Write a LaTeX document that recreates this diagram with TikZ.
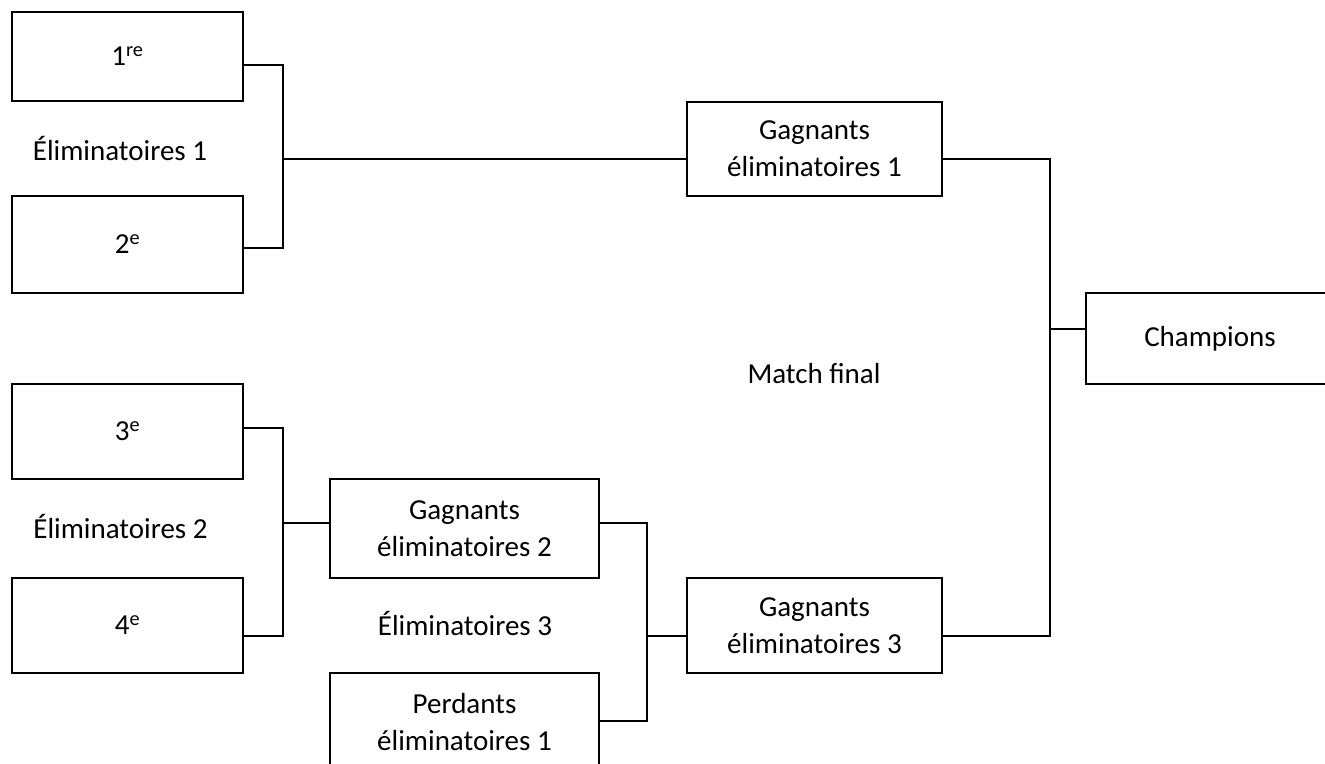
\documentclass[tikz,border=0pt]{standalone}
\usepackage{fontspec}
\setmainfont{Carlito}
\usetikzlibrary{shapes,arrows}

\begin{document}
\begin{tikzpicture}[x=1pt, y=-1pt, font=\fontsize{29}{37}\selectfont]
    \tikzstyle{block} = [rectangle, draw, line width=2.5pt, align=center, inner sep=0pt, minimum width=231pt, minimum height=95pt]
    \tikzstyle{line} = [draw, line width=2.5pt]
    \tikzstyle{stage} = [anchor=base, inner sep=0pt]

    \path [use as bounding box, clip] (0,0) rectangle (1325,763);

    \node [block, minimum height=89pt] (first) at (127.5,56.5) {1\textsuperscript{re}};
    \node [block, minimum height=97pt] (second) at (127.5,244.5) {2\textsuperscript{e}};
    \node [block] (third) at (127.5,431.5) {3\textsuperscript{e}};
    \node [block] (fourth) at (127.5,625.5) {4\textsuperscript{e}};
    \node [block, minimum width=255pt, minimum height=94pt] (win1) at (814.5,149) {Gagnants\\éliminatoires 1};
    \node [block, minimum width=269pt, minimum height=99pt] (win2) at (464.5,528.5) {Gagnants\\éliminatoires 2};
    \node [block, minimum width=269pt, minimum height=99pt] (lose1) at (464.5,722.5) {Perdants\\éliminatoires 1};
    \node [block, minimum width=255pt] (win3) at (814.5,625.5) {Gagnants\\éliminatoires 3};
    \node [block, minimum width=248pt, minimum height=91pt] (champ) at (1210,338.5) {Champions};

    \node [stage] (elim1) at (120,160) {Éliminatoires 1};
    \node [stage] (elim2) at (120.5,538) {Éliminatoires 2};
    \node [stage] (elim3) at (465,635) {Éliminatoires 3};
    \node [stage] (final) at (814,383) {Match final};

    % bracket joints
    \coordinate (j1) at (283,159);
    \coordinate (j2) at (283,523);
    \coordinate (j3) at (647,636);
    \coordinate (j4) at (1050,329);

    \path [line] ([yshift=-8.5pt]first.east) -| (j1) |- ([yshift=-3.5pt]second.east);
    \path [line] (j1) -- ([yshift=-10pt]win1.west);
    \path [line] ([yshift=3.5pt]third.east) -| (j2) |- ([yshift=-10.5pt]fourth.east);
    \path [line] (j2) -- ([yshift=5.5pt]win2.west);
    \path [line] ([yshift=5.5pt]win2.east) -| (j3) |- ([yshift=1.5pt]lose1.east);
    \path [line] (j3) -- ([yshift=-10.5pt]win3.west);
    \path [line] ([yshift=-10pt]win1.east) -| (j4) |- ([yshift=-10.5pt]win3.east);
    \path [line] (j4) -- ([yshift=9.5pt]champ.west);
\end{tikzpicture}
\end{document}
